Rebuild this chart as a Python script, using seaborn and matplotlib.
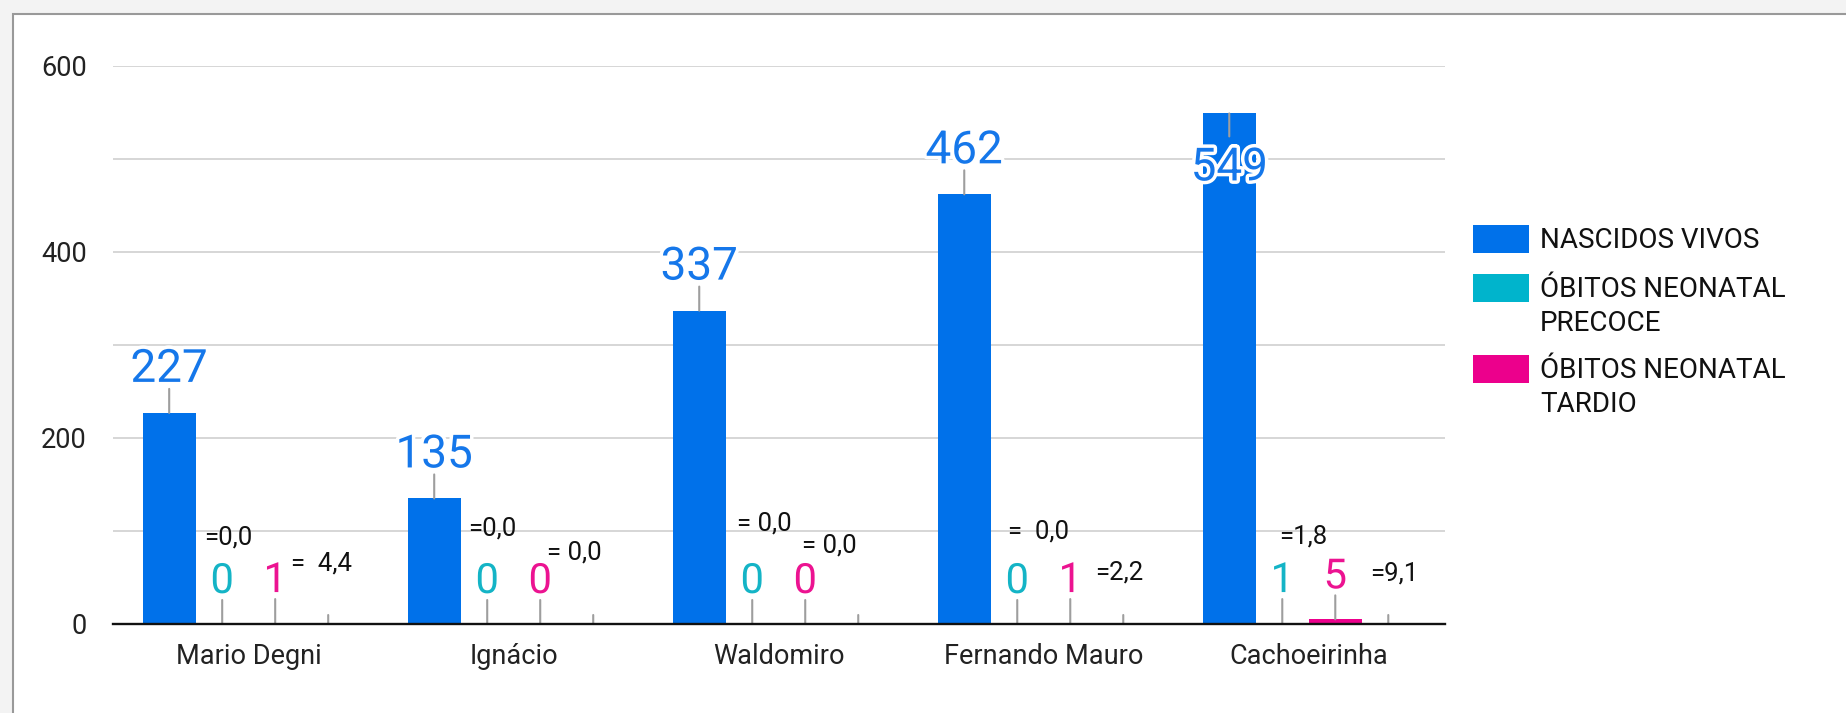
import matplotlib
matplotlib.use("Agg")
import matplotlib.pyplot as plt
import matplotlib.patheffects as pe
from matplotlib.patches import Rectangle
import pandas as pd
import seaborn as sns

# ---- data ----
unidades = ["Mario Degni", "Ignácio", "Waldomiro", "Fernando Mauro", "Cachoeirinha"]
nascidos_vivos = [227, 135, 337, 462, 549]
obitos_precoce = [0, 0, 0, 0, 1]
obitos_tardio = [1, 0, 0, 1, 5]
reserva = [0, 0, 0, 0, 0]                      # empty fourth slot of each group
taxa_precoce = [0.0, 0.0, 0.0, 0.0, 1.8]        # per 1000 live births
taxa_tardio = [4.4, 0.0, 0.0, 2.2, 9.1]
series = ["NASCIDOS VIVOS", "ÓBITOS NEONATAL\nPRECOCE", "ÓBITOS NEONATAL\nTARDIO", "reserva"]
y_ticks = [0, 100, 200, 300, 400, 500, 600]
y_tick_labels = ["0", "", "200", "", "400", "", "600"]

# ---- styles / layout ----
bar_colors = ["#0071EA", "#00B4CC", "#EC008C", "#FFFFFF"]
text_colors = ["#1577EA", "#14B4C6", "#EC1391", None]
grid_color = "#CCCCCC"
leader_color = "#9E9E9E"
FONT = "Roboto"
PX = 0.72  # points per pixel at dpi 100

# free-placed rate annotations: horizontal offset (px) from the slot centre and baseline height
precoce_dx = [-18, -19, -15, -9, -3]
precoce_y = [85, 95, 101, 92, 87]
precoce_sep = ["", "", " ", "  ", ""]
tardio_dx = [16, 7, -3, 25, 35]
tardio_y = [57, 69, 77, 48, 47]
tardio_sep = ["  ", " ", " ", "", ""]

W, H = 1846, 713
sns.set_theme(style="white")
plt.rcParams["font.family"] = [FONT, "DejaVu Sans"]

fig = plt.figure(figsize=(W / 100, H / 100), dpi=100, facecolor="#F3F3F3")
# white card with a grey rule along top and left
fig.add_artist(Rectangle((13 / W, -0.05), 1.2, 1.05 - 14 / H, transform=fig.transFigure,
                         facecolor="white", edgecolor="#999999", linewidth=1.5, zorder=0))

ax = fig.add_axes([113 / W, 89 / H, 1332 / W, 558 / H])
ax.set_facecolor("none")

df = pd.DataFrame({
    "unidade": unidades * 4,
    "serie": [s for s in series for _ in unidades],
    "valor": nascidos_vivos + obitos_precoce + obitos_tardio + reserva,
})
sns.barplot(data=df, x="unidade", y="valor", hue="serie", hue_order=series,
            palette=bar_colors, saturation=1, width=0.8, linewidth=0,
            errorbar=None, legend=False, ax=ax, zorder=3)

ax.set_ylim(0, 600)
ax.set_xlim(-0.512, 4.514)
ax.set_yticks(y_ticks)
ax.set_yticklabels(y_tick_labels, fontsize=19.5, color="#222222", family=FONT)
ax.set_xticklabels(unidades, fontsize=19.5, color="#222222", family=FONT)
ax.tick_params(axis="y", length=0, pad=19)
ax.tick_params(axis="x", length=0, pad=14)
ax.set_xlabel("")
ax.set_ylabel("")
ax.grid(axis="y", color=grid_color, linewidth=1.1, zorder=0)
ax.set_axisbelow(True)
for s in ["left", "right", "top"]:
    ax.spines[s].set_visible(False)
ax.spines["bottom"].set_color("#111111")
ax.spines["bottom"].set_linewidth(1.7)
ax.spines["bottom"].set_zorder(5)

halo = [pe.withStroke(linewidth=5, foreground="white")]
label_sizes = [33, 30, 30]
px_per_unit = 558 / 600

for k, cont in enumerate(ax.containers):
    for bar in cont:
        xc = bar.get_x() + bar.get_width() / 2
        top = bar.get_height()
        if k == 3:
            ax.annotate("", xy=(xc, top), xytext=(0, 9 * PX), textcoords="offset points",
                        arrowprops=dict(arrowstyle="-", color=leader_color, lw=1.5,
                                        shrinkA=0, shrinkB=0), zorder=4)
            continue
        # flip the label inside the bar when it would not fit above the plot
        room = (600 - top) * px_per_unit
        sign = 1 if room > 66 else -1
        lead = 24 if sign > 0 else 23
        base = 31 if sign > 0 else 67
        ax.annotate("", xy=(xc, top), xytext=(0, sign * lead * PX), textcoords="offset points",
                    arrowprops=dict(arrowstyle="-", color=leader_color, lw=1.5,
                                    shrinkA=0, shrinkB=0), zorder=4)
        ax.annotate(f"{int(top)}", xy=(xc, top), xytext=(0, sign * base * PX),
                    textcoords="offset points", ha="center", va="baseline",
                    fontsize=label_sizes[k], color=text_colors[k], family=FONT,
                    path_effects=halo, zorder=6)

# rate annotations next to the death counts
for i in range(len(unidades)):
    xp = ax.containers[1][i].get_x() + ax.containers[1][i].get_width() / 2
    xt = ax.containers[2][i].get_x() + ax.containers[2][i].get_width() / 2
    tp = "=" + precoce_sep[i] + f"{taxa_precoce[i]:.1f}".replace(".", ",")
    tt = "=" + tardio_sep[i] + f"{taxa_tardio[i]:.1f}".replace(".", ",")
    ax.annotate(tp, xy=(xp, precoce_y[i]), xytext=(precoce_dx[i] * PX, 0),
                textcoords="offset points", ha="left", va="baseline",
                fontsize=18.5, color="#111111", family=FONT, zorder=6)
    ax.annotate(tt, xy=(xt, tardio_y[i]), xytext=(tardio_dx[i] * PX, 0),
                textcoords="offset points", ha="left", va="baseline",
                fontsize=18.5, color="#111111", family=FONT, zorder=6)

# legend: swatch aligned with the first line of each entry
legend_rows = [248, 297, 378]   # baseline of first text line (px from top)
line_step = 34
for color, name, yb in zip(bar_colors[:3], series[:3], legend_rows):
    fig.add_artist(Rectangle((1473 / W, 1 - (yb + 5) / H), 56 / W, 28 / H,
                             transform=fig.transFigure, facecolor=color, edgecolor="none"))
    for j, line in enumerate(name.split("\n")):
        fig.text(1540 / W, 1 - (yb + j * line_step) / H, line, ha="left", va="baseline",
                 fontsize=20, color="#111111", family=FONT)

fig.savefig("out.png", dpi=100, facecolor=fig.get_facecolor())
